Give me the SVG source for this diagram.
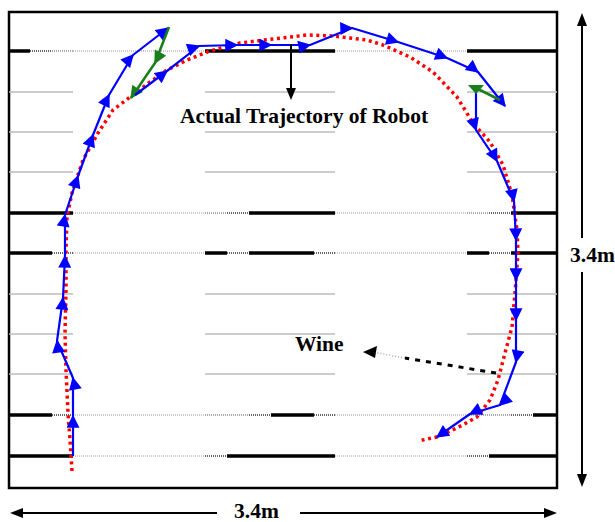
<svg xmlns="http://www.w3.org/2000/svg" width="615" height="522" viewBox="0 0 615 522">
<style>
.lbl{font-family:"Liberation Serif","Times New Roman",serif;font-weight:bold;font-size:21.5px;fill:#000}
.thin{stroke:#bdbdbd;stroke-width:1.3;fill:none}
.blk{stroke:#000;stroke-width:3.5;fill:none}
.gd{stroke:#bdbdbd;stroke-width:1.6;stroke-dasharray:1 1;fill:none}
.md{stroke:#a8a8a8;stroke-width:2;stroke-dasharray:1 1;fill:none}
.dd{stroke:#333;stroke-width:1.6;stroke-dasharray:1 1;fill:none}
.blue{stroke:#0000ff;stroke-width:2.2;fill:none;stroke-linejoin:round;marker-mid:url(#ab);marker-end:url(#ab)}
.green{stroke:#1a7f1a;stroke-width:2.6;fill:none;marker-mid:url(#ag);marker-end:url(#ag)}
.red{stroke:#ff0000;stroke-width:3.5;fill:none;stroke-dasharray:3 3.6;stroke-linejoin:round}
.dim{stroke:#000;stroke-width:2;fill:none}
</style>
<defs>
<marker id="ab" viewBox="0 0 10 10" refX="9" refY="5" markerUnits="userSpaceOnUse" markerWidth="14" markerHeight="13" orient="auto"><path d="M0,0L10,5L0,10z" fill="#0000ff"/></marker>
<marker id="ag" viewBox="0 0 10 10" refX="9" refY="5" markerUnits="userSpaceOnUse" markerWidth="14" markerHeight="13" orient="auto"><path d="M0,0L10,5L0,10z" fill="#1a7f1a"/></marker>
</defs>
<rect width="615" height="522" fill="#fff"/>
<g id="grid">
<rect x="9" y="12" width="548" height="476" fill="none" stroke="#000" stroke-width="2.5"/>
<g class="thin">
<path d="M9,92H73M205,92H335M467,92H557M9,132H73M205,132H335M467,132H557M9,172H73M205,172H335M467,172H557M9,294H73M205,294H335M467,294H557M9,334H73M205,334H335M467,334H557M9,374H73M205,374H335M467,374H557"/>
</g>
<path class="blk" d="M9,51H30M205,51H335M467,51H557"/>
<path class="dd" d="M30,51H52"/>
<path class="md" d="M52,51H73"/>
<path class="gd" d="M73,51H205M335,51H467"/>
<path class="blk" d="M9,213H73M249,213H335M511,213H557"/>
<path class="gd" d="M73,213H205M335,213H467"/>
<path class="md" d="M205,213H227M467,213H489"/>
<path class="dd" d="M227,213H249M489,213H511"/>
<path class="blk" d="M9,253H52M205,253H227M249,253H314M467,253H489M511,253H557"/>
<path class="dd" d="M52,253H73M227,253H249M314,253H335M489,253H511"/>
<path class="gd" d="M73,253H205M335,253H467"/>
<path class="blk" d="M9,415H52M271,415H314M533,415H557"/>
<path class="dd" d="M52,415H73M249,415H271M314,415H335M511,415H533"/>
<path class="gd" d="M73,415H205M335,415H467"/>
<path class="md" d="M205,415H249M467,415H511"/>
<path class="blk" d="M9,456H73M227,456H335M489,456H557"/>
<path class="gd" d="M73,456H205M335,456H467"/>
<path class="dd" d="M205,456H227M467,456H489"/>
</g>
<g id="connectors">
<polyline class="red" points="72,471 70,440 68,413 66,370 65,333 66,290 66,250 67,217 72,193 83,160 98,133 113,110 130,97 150,82 167,70 187,60 210,51 240,43 273,39 307,35 333,36 350,38 367,40 383,45 410,57 433,72 457,97 473,123 490,142 503,165 512,195 517,230 518,253 515,293 512,327 505,353 498,380 490,400 477,417 457,428 437,437 418,441"/>
<polyline class="blue" points="73,456 73,416 73,378 57,341 63,298 65,256 65,215 78,176 93,135 109,95 133,55 168,28"/>
<polyline class="green" points="169,27 155,63 131,98"/>
<polyline class="blue" points="135,95 167,71 199,46 237,45 271,45 310,45 352,28 398,42 447,58 478,72 505,106"/>
<line x1="500" y1="100" x2="478" y2="89" stroke="#1a7f1a" stroke-width="2.6"/>
<polyline class="blue" points="476,90 476,130 497,161 514,201 516,240 516,280 516,320 516,362 500,405 470,414 437,437"/>
<polygon points="468,85 484,85 476,94" fill="#1a7f1a"/>
<line x1="291" y1="44" x2="291" y2="89" stroke="#000" stroke-width="2"/>
<polygon points="291,100 286,88 296,88" fill="#000"/>
<line x1="496" y1="373" x2="405" y2="358" stroke="#000" stroke-width="3" stroke-dasharray="5 6"/>
<line x1="405" y1="358" x2="377" y2="353" stroke="#aaa" stroke-width="1.5" stroke-dasharray="1 2"/>
<polygon points="363,352 377,346 375,358" fill="#000"/>
</g>
<g id="label-trajectory"><text class="lbl" x="180" y="123">Actual Trajectory of Robot</text></g>
<g id="label-wine"><text class="lbl" x="295" y="351">Wine</text></g>
<g id="dim-vertical">
<line class="dim" x1="582" y1="24" x2="582" y2="238"/>
<line class="dim" x1="582" y1="272" x2="582" y2="476"/>
<polygon points="582,13 577,26 587,26" fill="#000"/>
<polygon points="582,487 577,474 587,474" fill="#000"/>
<text class="lbl" x="570" y="262">3.4m</text>
</g>
<g id="dim-horizontal">
<line class="dim" x1="21" y1="513" x2="217" y2="513"/>
<line class="dim" x1="300" y1="513" x2="546" y2="513"/>
<polygon points="10,513 23,508 23,518" fill="#000"/>
<polygon points="557,513 544,508 544,518" fill="#000"/>
<text class="lbl" x="234" y="518">3.4m</text>
</g>
</svg>
